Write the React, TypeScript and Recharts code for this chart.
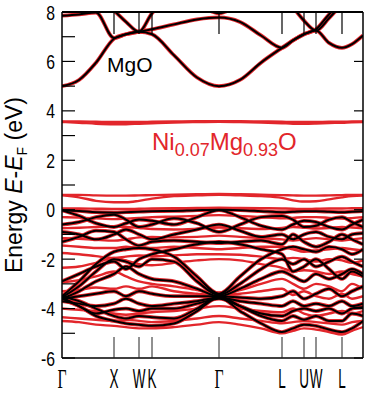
import { LineChart, Line, XAxis, YAxis } from "recharts";

// k-path sample positions (path length units, Γ at 0, plot ends at 301)
const K_PTS = [0, 17, 34, 52, 64, 77, 90, 112, 135, 157, 178, 199, 220, 231, 242, 254, 267, 280, 290, 301];
const K_MAX = 301;
const SYM_K = [0, 52, 77, 90, 157, 220, 242, 254, 280];
const SYM_LABELS = ["Γ", "X", "W", "K", "Γ", "L", "U", "W", "L"];
const E_TICKS = [-6, -5, -4, -3, -2, -1, 0, 1, 2, 3, 4, 5, 6, 7, 8];

// plot box in pixels
const PLOT_LEFT = 62;
const PLOT_TOP = 12;
const PLOT_W = 301;

// MgO conduction bands (eV)
const C1 = [5.0, 5.25, 5.95, 6.92, 7.1, 7.2, 7.1, 6.25, 5.35, 5.0, 5.25, 5.95, 6.55, 6.85, 7.1, 7.25, 6.75, 6.55, 6.7, 7.05];
const C2 = [7.85, 7.9, 7.98, 6.95, 7.1, 7.2, 7.3, 7.5, 7.7, 7.78, 7.6, 7.05, 6.55, 6.85, 7.1, 7.3, 7.9, 8.4, 8.6, 8.8];
const C3 = [8.8, 8.8, 8.5, 8.05, 7.6, 7.2, 7.95, 8.6, 8.8, 8.8, 8.8, 8.8, 8.8, 8.8, 8.8, 8.8, 8.8, 8.8, 8.8, 8.8];
const C4 = [8.8, 8.8, 8.8, 8.8, 8.8, 8.8, 8.8, 8.8, 8.8, 8.8, 8.8, 8.8, 8.8, 8.2, 7.65, 7.25, 7.75, 8.3, 8.6, 8.8];
const C5 = [8.8, 8.8, 8.8, 8.8, 8.8, 8.8, 8.8, 8.8, 8.3, 7.95, 8.3, 8.8, 8.8, 8.8, 8.8, 8.8, 8.8, 8.8, 8.8, 8.8];

// MgO valence bands (eV)
const V1 = [-0.02, -0.05, -0.1, -0.12, -0.1, -0.08, -0.06, -0.05, -0.02, 0.0, -0.02, -0.06, -0.1, -0.08, -0.06, -0.06, -0.08, -0.1, -0.08, -0.06];
const V2 = [-0.02, -0.25, -0.55, -0.7, -0.55, -0.4, -0.45, -0.6, -0.3, -0.02, -0.3, -0.65, -0.8, -0.6, -0.45, -0.5, -0.7, -0.8, -0.6, -0.4];
const V3 = [-0.6, -0.5, -0.3, -0.2, -0.4, -0.7, -0.6, -0.35, -0.55, -0.9, -0.6, -0.3, -0.25, -0.4, -0.7, -0.65, -0.4, -0.3, -0.5, -0.7];
const V4 = [-0.9, -1.0, -1.2, -1.0, -0.8, -1.0, -1.2, -1.0, -0.8, -0.6, -0.85, -1.1, -1.0, -1.2, -1.0, -0.9, -1.1, -1.2, -1.0, -0.95];
const V5 = [-1.3, -1.1, -0.85, -0.9, -1.2, -1.45, -1.3, -1.25, -1.3, -1.35, -1.3, -1.25, -1.4, -1.0, -1.3, -1.5, -1.3, -1.0, -1.2, -1.4];
const V6 = [-3.5, -2.9, -2.2, -1.7, -1.6, -1.55, -1.6, -1.9, -2.7, -3.4, -2.7, -2.0, -1.6, -1.5, -1.6, -1.7, -1.5, -1.6, -1.8, -1.6];
const V7 = [-3.55, -3.1, -2.5, -2.0, -2.1, -2.3, -2.0, -2.1, -2.9, -3.45, -3.0, -2.4, -2.0, -2.2, -2.0, -2.3, -2.1, -1.9, -2.1, -2.3];
const V8 = [-3.6, -3.3, -2.9, -2.6, -2.3, -2.6, -2.8, -2.9, -3.2, -3.5, -3.2, -2.8, -2.5, -2.7, -2.9, -2.6, -2.8, -2.6, -2.4, -2.6];
const V9 = [-3.6, -3.5, -3.4, -3.3, -3.5, -3.3, -3.4, -3.5, -3.5, -3.5, -3.55, -3.6, -3.5, -3.3, -3.6, -3.4, -3.2, -3.5, -3.3, -3.1];
const V10 = [-3.7, -3.8, -3.9, -3.8, -3.6, -3.8, -3.9, -3.8, -3.7, -3.55, -3.7, -3.8, -3.9, -3.7, -3.9, -3.8, -3.9, -3.7, -3.9, -3.8];
const V11 = [-3.6, -3.9, -4.2, -4.05, -4.0, -4.1, -4.0, -4.0, -3.8, -3.6, -3.9, -4.2, -4.3, -4.1, -4.0, -4.1, -4.0, -4.2, -4.0, -3.95];
const V12 = [-3.55, -3.9, -4.3, -4.5, -4.6, -4.65, -4.7, -4.6, -4.1, -3.55, -4.1, -4.6, -4.95, -4.8, -4.65, -4.7, -4.85, -4.95, -4.8, -4.5];
const V13 = [-3.5, -3.7, -4.0, -4.3, -4.4, -4.3, -4.35, -4.4, -4.0, -3.5, -3.9, -4.3, -4.5, -4.3, -4.45, -4.3, -4.5, -4.5, -4.2, -4.3];
const V14 = [-2.9, -2.6, -2.3, -2.1, -2.4, -2.0, -1.8, -1.6, -1.4, -1.3, -1.4, -1.6, -1.8, -2.5, -2.3, -2.0, -2.4, -2.8, -2.5, -2.7];

// Ni0.07Mg0.93O gap states (eV)
const I1 = [3.57, 3.57, 3.56, 3.55, 3.55, 3.55, 3.56, 3.57, 3.58, 3.58, 3.58, 3.57, 3.56, 3.55, 3.55, 3.55, 3.56, 3.56, 3.57, 3.57];
const I2 = [3.55, 3.52, 3.48, 3.46, 3.46, 3.48, 3.5, 3.53, 3.55, 3.56, 3.55, 3.53, 3.5, 3.48, 3.48, 3.49, 3.51, 3.52, 3.54, 3.55];
const I3 = [0.6, 0.6, 0.58, 0.57, 0.57, 0.58, 0.59, 0.61, 0.63, 0.64, 0.63, 0.61, 0.59, 0.58, 0.57, 0.57, 0.58, 0.59, 0.6, 0.6];
const I4 = [0.58, 0.5, 0.36, 0.3, 0.3, 0.36, 0.45, 0.55, 0.58, 0.6, 0.58, 0.55, 0.48, 0.38, 0.33, 0.34, 0.42, 0.5, 0.55, 0.57];
const I5 = [0.05, 0.05, 0.04, 0.03, 0.03, 0.04, 0.05, 0.06, 0.07, 0.08, 0.07, 0.06, 0.05, 0.04, 0.03, 0.04, 0.05, 0.05, 0.06, 0.06];

// Ni0.07Mg0.93O extra valence bands (eV)
const R1 = [-0.3, -0.32, -0.35, -0.38, -0.36, -0.33, -0.3, -0.28, -0.25, -0.22, -0.25, -0.3, -0.35, -0.33, -0.3, -0.3, -0.33, -0.36, -0.34, -0.3];
const R2 = [-0.75, -0.73, -0.7, -0.68, -0.7, -0.74, -0.78, -0.8, -0.77, -0.72, -0.75, -0.78, -0.74, -0.7, -0.72, -0.76, -0.74, -0.7, -0.72, -0.75];
const R3 = [-1.15, -1.18, -1.22, -1.25, -1.2, -1.12, -1.1, -1.12, -1.1, -1.05, -1.1, -1.15, -1.2, -1.25, -1.2, -1.15, -1.2, -1.25, -1.2, -1.15];
const R4 = [-1.45, -1.5, -1.55, -1.55, -1.5, -1.55, -1.55, -1.5, -1.55, -1.6, -1.55, -1.5, -1.5, -1.6, -1.7, -1.65, -1.6, -1.55, -1.6, -1.65];
const R5 = [-1.75, -1.8, -1.88, -1.95, -1.9, -1.85, -1.88, -1.85, -1.8, -1.8, -1.82, -1.9, -2.0, -1.95, -2.0, -2.1, -2.0, -2.05, -2.15, -2.05];
const R6 = [-2.35, -2.3, -2.15, -1.95, -2.05, -2.2, -2.25, -2.15, -2.05, -2.0, -2.05, -2.2, -2.35, -2.5, -2.45, -2.5, -2.6, -2.5, -2.6, -2.7];
const R7 = [-2.95, -2.85, -2.7, -2.5, -2.7, -2.9, -3.0, -3.1, -3.25, -3.35, -3.25, -3.0, -2.8, -3.0, -3.2, -3.0, -3.1, -3.3, -3.0, -3.2];
const R8 = [-3.3, -3.25, -3.15, -3.2, -3.1, -3.2, -3.1, -3.3, -3.4, -3.45, -3.4, -3.3, -3.2, -3.45, -3.3, -3.5, -3.6, -3.4, -3.6, -3.5];
const R9 = [-4.0, -4.05, -4.1, -4.2, -4.25, -4.2, -4.15, -4.1, -4.0, -3.9, -4.0, -4.1, -4.15, -4.0, -4.2, -4.3, -4.2, -4.1, -4.2, -4.1];
const R10 = [-4.35, -4.4, -4.45, -4.5, -4.45, -4.5, -4.55, -4.5, -4.4, -4.3, -4.4, -4.5, -4.6, -4.55, -4.5, -4.55, -4.6, -4.65, -4.55, -4.5];
const R11 = [-4.5, -4.55, -4.65, -4.7, -4.75, -4.8, -4.8, -4.75, -4.65, -4.55, -4.65, -4.8, -5.0, -4.9, -4.8, -4.85, -4.95, -5.05, -4.9, -4.75];

const MGO_BANDS = [C1, C2, C3, C4, C5, V1, V2, V3, V4, V5, V6, V7, V8, V9, V10, V11, V12, V13, V14];
const NIMGO_BANDS = [I1, I2, I3, I4, I5, R1, R2, R3, R4, R5, R6, R7, R8, R9, R10, R11];

const RED = "#e2262b";

const rows = K_PTS.map((k, i) => {
  const r: Record<string, number> = { k };
  MGO_BANDS.forEach((b, j) => (r[`m${j}`] = b[i]));
  NIMGO_BANDS.forEach((b, j) => (r[`n${j}`] = b[i]));
  return r;
});

const BottomTick = ({ x, y, payload }: any) => {
  const i = SYM_K.indexOf(payload.value);
  const lab = SYM_LABELS[i];
  const serif = lab === "Γ";
  return (
    <g>
      {i > 0 && <line x1={x} x2={x} y1={y} y2={y - 21} stroke="#222" strokeWidth={1} />}
      <text
        transform={`translate(${x},${y + 30}) scale(${serif ? 0.58 : 0.5},1)`}
        textAnchor="middle"
        fontSize={27}
        fontFamily={serif ? "Liberation Serif" : "Liberation Sans"}
        fill="#000"
      >
        {lab}
      </text>
    </g>
  );
};

const LeftTick = ({ x, y, payload }: any) => {
  const v = payload.value;
  return (
    <g>
      <line x1={x} x2={x + 13} y1={y} y2={y} stroke="#000" strokeWidth={1.2} />
      {v % 2 === 0 && (
        <text
          transform={`translate(${x - 7},${y + 7.5}) scale(0.75,1)`}
          textAnchor="end"
          fontSize={21}
          fontFamily="Liberation Sans"
          fill="#000"
        >
          {v}
        </text>
      )}
    </g>
  );
};

const RightTick = ({ x, y, payload }: any) =>
  payload.value % 2 === 0 ? <line x1={x} x2={x - 9} y1={y} y2={y} stroke="#000" strokeWidth={1.2} /> : <g />;

export default function App() {
  const kx = (k: number) => PLOT_LEFT + (k / K_MAX) * PLOT_W;
  return (
    <div style={{ position: "absolute", left: 0, top: 0, width: 365, height: 394, background: "#fff" }}>
      <LineChart width={365} height={394} data={rows} margin={{ top: 12, right: 1, bottom: 35, left: 61 }}>
        <XAxis
          xAxisId="b"
          dataKey="k"
          type="number"
          domain={[0, K_MAX]}
          ticks={SYM_K}
          height={1}
          tickSize={0}
          tickMargin={0}
          tick={<BottomTick />}
          axisLine={{ stroke: "#000", strokeWidth: 1.5 }}
          allowDataOverflow
          interval={0}
        />
        <YAxis
          yAxisId="l"
          type="number"
          domain={[-6, 8]}
          ticks={E_TICKS}
          width={1}
          tickSize={0}
          tickMargin={0}
          tick={<LeftTick />}
          axisLine={{ stroke: "#000", strokeWidth: 1.5 }}
          allowDataOverflow
          interval={0}
        />
        <YAxis
          yAxisId="r"
          orientation="right"
          type="number"
          domain={[-6, 8]}
          ticks={E_TICKS}
          width={1}
          tickSize={0}
          tickMargin={0}
          tick={<RightTick />}
          axisLine={{ stroke: "#000", strokeWidth: 1.5 }}
          allowDataOverflow
          interval={0}
        />
        {MGO_BANDS.map((_, j) => (
          <Line
            key={`h${j}`}
            xAxisId="b"
            yAxisId="l"
            dataKey={`m${j}`}
            type="monotone"
            stroke={RED}
            strokeWidth={3.8}
            dot={false}
            activeDot={false}
            isAnimationActive={false}
          />
        ))}
        {NIMGO_BANDS.map((_, j) => (
          <Line
            key={`n${j}`}
            xAxisId="b"
            yAxisId="l"
            dataKey={`n${j}`}
            type="monotone"
            stroke={RED}
            strokeWidth={2.4}
            dot={false}
            activeDot={false}
            isAnimationActive={false}
          />
        ))}
        {MGO_BANDS.map((_, j) => (
          <Line
            key={`m${j}`}
            xAxisId="b"
            yAxisId={j === 0 ? "r" : "l"}
            dataKey={`m${j}`}
            type="monotone"
            stroke="#000"
            strokeWidth={2}
            dot={false}
            activeDot={false}
            isAnimationActive={false}
          />
        ))}
      </LineChart>
      <svg width={365} height={394} style={{ position: "absolute", left: 0, top: 0, pointerEvents: "none" }}>
        {/* top frame edge and the k-point marks hanging from it */}
        <line x1={PLOT_LEFT} x2={PLOT_LEFT + PLOT_W} y1={PLOT_TOP} y2={PLOT_TOP} stroke="#000" strokeWidth={2} />
        {SYM_K.slice(1).map((k) => (
          <line key={k} x1={kx(k)} x2={kx(k)} y1={PLOT_TOP} y2={PLOT_TOP + 22} stroke="#000" strokeWidth={1.2} />
        ))}
        <text
          transform="translate(22,185) rotate(-90)"
          textAnchor="middle"
          fontSize={23}
          fontFamily="Liberation Sans"
          fill="#000"
        >
          Energy <tspan fontStyle="italic">E</tspan>-<tspan fontStyle="italic">E</tspan>
          <tspan fontSize={14} dy={5}>F</tspan>
          <tspan dy={-5}> (eV)</tspan>
        </text>
        <text x={107} y={72} fontSize={21} fontFamily="Liberation Sans" fill="#000">
          MgO
        </text>
        <text x={152} y={150} fontSize={24} fontFamily="Liberation Sans" fill={RED}>
          Ni<tspan fontSize={18} dy={6}>0.07</tspan>
          <tspan dy={-6}>Mg</tspan>
          <tspan fontSize={18} dy={6}>0.93</tspan>
          <tspan dy={-6}>O</tspan>
        </text>
      </svg>
    </div>
  );
}
